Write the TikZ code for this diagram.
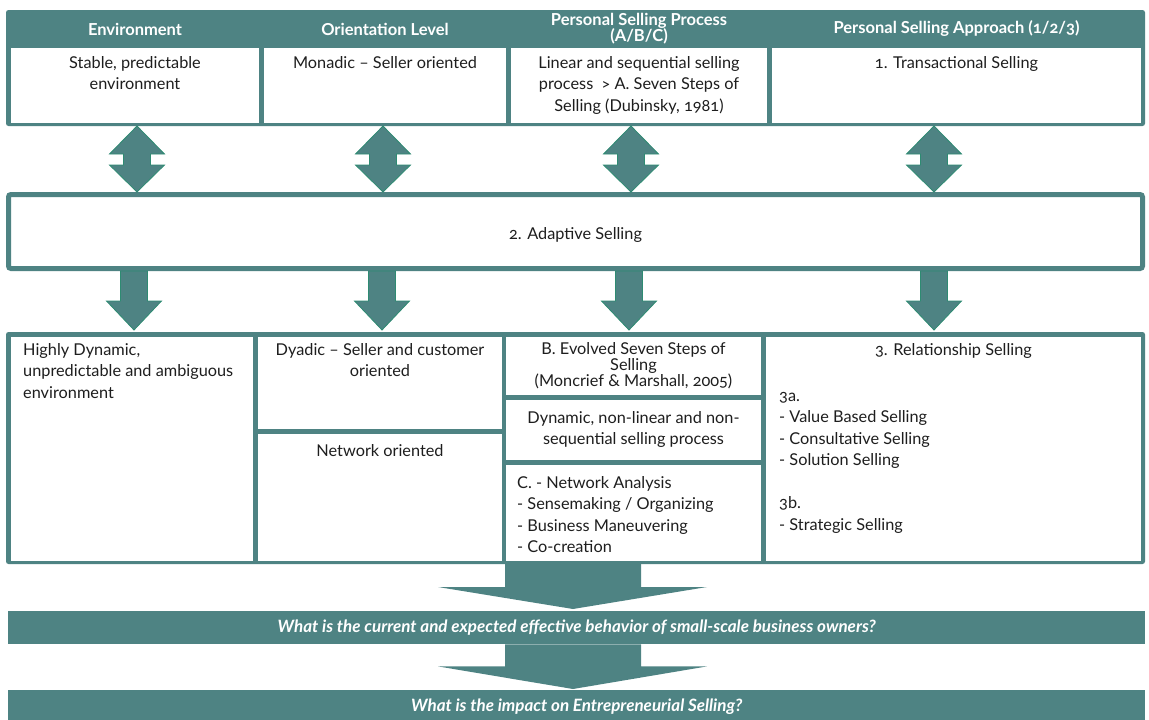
\documentclass[tikz,border=0pt]{standalone}
\usepackage{fontspec}
\setmainfont{Lato}[Numbers=OldStyle]
\usetikzlibrary{positioning,calc}
\definecolor{sellteal}{HTML}{4E8383}
\definecolor{selledge}{HTML}{2E8B72}
\definecolor{selltext}{HTML}{1E1E1E}

\tikzset{
  panel/.style={fill=sellteal, rounded corners=2.5pt, inner sep=0pt, outer sep=0pt, anchor=north west},
  cellbox/.style={fill=white, inner sep=0pt, outer sep=0pt, anchor=north west},
  headtext/.style={text=white, font=\fontsize{16.5}{16}\selectfont\bfseries, align=center, inner sep=0pt},
  celltext/.style={text=selltext, font=\fontsize{16.3}{21.5}\selectfont, align=center, inner sep=0pt},
  tighttext/.style={celltext, font=\fontsize{16.3}{16}\selectfont},
  listtext/.style={celltext, align=left, anchor=north west},
  linkarrow/.style={fill=sellteal, draw=selledge, line width=0.8pt},
  flowarrow/.style={fill=sellteal},
  questionbar/.style={fill=sellteal, inner sep=0pt, anchor=north west, text=white,
    font=\fontsize{17}{18}\selectfont\bfseries\itshape}
}

\begin{document}
\begin{tikzpicture}[x=1pt,y=-1pt]
  \useasboundingbox (0,0) rectangle (1149,720);

  % top row
  \node[panel, minimum width=1139pt, minimum height=116pt] (topframe) at (6,10) {};
  \node[cellbox, minimum width=248pt, minimum height=75pt] (envcell) at (11,48) {};
  \node[cellbox, minimum width=242pt, minimum height=75pt] (orientcell) at (264,48) {};
  \node[cellbox, minimum width=256pt, minimum height=75pt] (processcell) at (511,48) {};
  \node[cellbox, minimum width=369pt, minimum height=75pt] (approachcell) at (772,48) {};

  \node[headtext, yshift=19pt] (envhead) at (envcell.north) {Environment};
  \node[headtext, yshift=19pt] (orienthead) at (orientcell.north) {Orientation Level};
  \node[headtext, yshift=19pt] (processhead) at (processcell.north) {Personal Selling Process\\(A/B/C)};
  \node[headtext, yshift=19pt] (approachhead) at (approachcell.north) {Personal Selling Approach (1/2/3)};
  \fill[white] (511,48) rectangle (767,56);

  \node[celltext, below=8pt of envcell.north] (envtext) {Stable, predictable\\environment};
  \node[celltext, below=8pt of orientcell.north] (orienttext) {Monadic -- Seller oriented};
  \node[celltext, below=8pt of processcell.north] (processtext) {Linear and sequential selling\\process \ > A. Seven Steps of\\Selling (Dubinsky, 1981)};
  \node[celltext, below=8pt of approachcell.north] (approachtext) {1. Transactional Selling};

  % middle row
  \node[draw=sellteal, line width=5pt, fill=white, rounded corners=2.5pt, inner sep=0pt,
    anchor=north west, minimum width=1134pt, minimum height=74pt,
    text=selltext, font=\fontsize{16.3}{21.5}\selectfont] (adaptive) at (6,192) {};
  \node[celltext, yshift=-3pt] (adaptivetext) at (adaptive.center) {2. Adaptive Selling};

  \foreach \ax in {137,383,631,934}{
    \filldraw[linkarrow] let \p1=(topframe.south), \p2=(adaptive.north), \p3=(\ax,0) in
      (\x3,\y1) -- (\x3+27.5pt,\y1-28pt) -- (\x3+13.5pt,\y1-28pt)
      -- (\x3+13.5pt,\y2+27pt) -- (\x3+27.5pt,\y2+27pt) -- (\x3,\y2)
      -- (\x3-27.5pt,\y2+27pt) -- (\x3-13.5pt,\y2+27pt)
      -- (\x3-13.5pt,\y1-28pt) -- (\x3-27.5pt,\y1-28pt) -- cycle;
  }

  % bottom row
  \node[panel, minimum width=1139pt, minimum height=232pt] (lowframe) at (6,332) {};
  \node[cellbox, minimum width=242pt, minimum height=224pt] (dyncell) at (11,337) {};
  \node[cellbox, minimum width=244pt, minimum height=92pt] (dyadcell) at (258,337) {};
  \node[cellbox, minimum width=244pt, minimum height=127pt] (networkcell) at (258,434) {};
  \node[cellbox, minimum width=255pt, minimum height=58pt] (evolvedcell) at (506,337) {};
  \node[cellbox, minimum width=255pt, minimum height=60pt] (nonlinearcell) at (506,400) {};
  \node[cellbox, minimum width=255pt, minimum height=96pt] (analysiscell) at (506,465) {};
  \node[cellbox, minimum width=375pt, minimum height=224pt] (relationcell) at (766,337) {};

  \foreach \ax in {134,382,629,934}{
    \filldraw[linkarrow] let \p1=(adaptive.south), \p2=(lowframe.north), \p3=(\ax,0) in
      (\x3-13.5pt,\y1) -- (\x3+13.5pt,\y1) -- (\x3+13.5pt,\y2+31pt) -- (\x3+27.5pt,\y2+31pt)
      -- (\x3,\y2+2pt) -- (\x3-27.5pt,\y2+31pt) -- (\x3-13.5pt,\y2+31pt) -- cycle;
  }

  \node[listtext] (dyntext) at ([xshift=12pt,yshift=-6pt]dyncell.north west) {Highly Dynamic,\\unpredictable and ambiguous\\environment};
  \node[celltext, below=6pt of dyadcell.north] (dyadtext) {Dyadic -- Seller and customer\\oriented};
  \node[celltext, below=10pt of networkcell.north] (networktext) {Network oriented};
  \node[tighttext, below=5pt of evolvedcell.north] (evolvedtext) {B. Evolved Seven Steps of\\Selling\\(Moncrief \& Marshall, 2005)};
  \node[celltext, below=11pt of nonlinearcell.north] (nonlineartext) {Dynamic, non-linear and non-\\sequential selling process};
  \node[listtext] (analysistext) at ([xshift=11pt,yshift=-11pt]analysiscell.north west) {C. - Network Analysis\\- Sensemaking / Organizing\\- Business Maneuvering\\- Co-creation};
  \node[celltext, below=6pt of relationcell.north] (relationtitle) {3. Relationship Selling};
  \node[listtext] (relationlist) at ([xshift=13pt,yshift=-55pt]relationcell.north west) {3a.\\- Value Based Selling\\- Consultative Selling\\- Solution Selling\\[21.5pt]3b.\\- Strategic Selling};

  % questions
  \node[questionbar, minimum width=1137pt, minimum height=33pt] (behaviorbar) at (8,611) {What is the current and expected effective behavior of small-scale business owners?};
  \node[questionbar, minimum width=1137pt, minimum height=34pt] (impactbar) at (8,690) {What is the impact on Entrepreneurial Selling?};

  \fill[flowarrow] let \p1=(lowframe.south), \p2=(behaviorbar.north) in
    (505pt,\y1) -- (641pt,\y1) -- (641pt,\y1-23pt) -- (707pt,\y1-23pt) -- (573pt,\y2+2pt)
    -- (438pt,\y1-23pt) -- (505pt,\y1-23pt) -- cycle;
  \fill[flowarrow] let \p1=(behaviorbar.south), \p2=(impactbar.north) in
    (505pt,\y1) -- (641pt,\y1) -- (641pt,\y1-22pt) -- (707pt,\y1-22pt) -- (573pt,\y2+1pt)
    -- (438pt,\y1-22pt) -- (505pt,\y1-22pt) -- cycle;
\end{tikzpicture}
\end{document}
